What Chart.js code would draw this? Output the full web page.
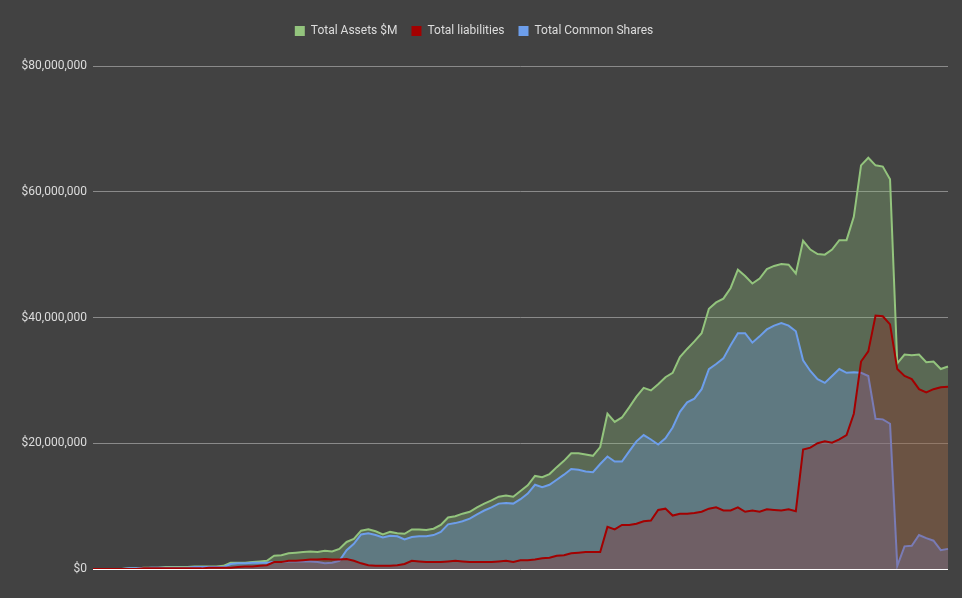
<!DOCTYPE html>
<html>
<head>
<meta charset="utf-8">
<script src="https://cdn.jsdelivr.net/npm/chart.js@4/dist/chart.umd.min.js"></script>
<style>
  html, body { margin: 0; padding: 0; background: #424242; }
  #wrap { width: 962px; height: 598px; }
</style>
</head>
<body>
<div id="wrap"><canvas id="myChart" width="962" height="598"></canvas></div>
<script>
// values in $M, one per period
const totalAssets = [
  0, 0, 0, 0, 0, 0.1, 0.1, 0.2, 0.2, 0.2, 0.3, 0.3, 0.3, 0.3, 0.4, 0.4, 0.4, 0.4, 0.5, 1.0,
  1.0, 1.0, 1.1, 1.2, 1.3, 2.1, 2.2, 2.5, 2.6, 2.7, 2.8, 2.7, 2.9, 2.8, 3.2, 4.3, 4.8, 6.1, 6.3, 6.0,
  5.5, 5.9, 5.7, 5.6, 6.3, 6.3, 6.2, 6.4, 7.0, 8.2, 8.4, 8.8, 9.1, 9.8, 10.4, 10.9, 11.5, 11.7, 11.5, 12.4,
  13.3, 14.8, 14.6, 15.1, 16.2, 17.2, 18.4, 18.4, 18.2, 18.0, 19.4, 24.7, 23.4, 24.1, 25.7, 27.4, 28.8, 28.4, 29.4, 30.5,
  31.2, 33.7, 35.0, 36.2, 37.5, 41.4, 42.4, 43.0, 44.7, 47.6, 46.6, 45.4, 46.2, 47.7, 48.2, 48.5, 48.4, 47.0, 52.2, 50.8,
  50.1, 50.0, 50.8, 52.3, 52.3, 56.0, 64.2, 65.4, 64.2, 64.0, 62.0, 32.7, 34.1, 34.0, 34.1, 32.9, 33.0, 31.8, 32.2
];
const totalLiabilities = [
  0, 0, 0, 0, 0, 0, 0, 0.1, 0.1, 0.1, 0.1, 0.1, 0.1, 0.1, 0.1, 0.1, 0.2, 0.2, 0.2, 0.2,
  0.3, 0.4, 0.4, 0.5, 0.6, 1.1, 1.1, 1.3, 1.3, 1.4, 1.5, 1.5, 1.6, 1.5, 1.5, 1.6, 1.3, 0.9, 0.6, 0.5,
  0.5, 0.5, 0.6, 0.8, 1.3, 1.2, 1.1, 1.1, 1.1, 1.2, 1.3, 1.2, 1.1, 1.1, 1.1, 1.1, 1.2, 1.3, 1.1, 1.4,
  1.4, 1.5, 1.7, 1.8, 2.1, 2.2, 2.5, 2.6, 2.7, 2.7, 2.7, 6.7, 6.3, 7.0, 7.0, 7.2, 7.6, 7.7, 9.4, 9.6,
  8.5, 8.8, 8.8, 8.9, 9.1, 9.6, 9.8, 9.3, 9.3, 9.8, 9.1, 9.3, 9.1, 9.5, 9.4, 9.3, 9.5, 9.2, 19.0, 19.3,
  20.0, 20.3, 20.1, 20.6, 21.3, 24.7, 33.0, 34.6, 40.3, 40.2, 38.9, 31.8, 30.7, 30.2, 28.6, 28.1, 28.6, 28.9, 29.0
];
const totalCommonShares = [
  0, 0, 0, 0, 0, 0.1, 0.1, 0.1, 0.2, 0.2, 0.2, 0.2, 0.2, 0.2, 0.3, 0.3, 0.3, 0.3, 0.3, 0.8,
  0.9, 0.9, 1.0, 1.0, 1.0, 1.1, 1.1, 1.2, 1.2, 1.2, 1.2, 1.1, 0.9, 1.0, 1.3, 3.0, 4.0, 5.5, 5.7, 5.4,
  5.0, 5.3, 5.2, 4.7, 5.1, 5.2, 5.2, 5.4, 5.9, 7.1, 7.3, 7.6, 8.0, 8.7, 9.3, 9.8, 10.4, 10.5, 10.4, 11.1,
  12.0, 13.4, 13.0, 13.4, 14.2, 15.0, 15.9, 15.8, 15.5, 15.4, 16.7, 17.9, 17.1, 17.1, 18.7, 20.3, 21.3, 20.6, 19.8, 20.8,
  22.5, 25.0, 26.5, 27.1, 28.6, 31.8, 32.6, 33.5, 35.6, 37.5, 37.5, 36.0, 37.0, 38.1, 38.7, 39.1, 38.7, 37.8, 33.2, 31.5,
  30.2, 29.6, 30.7, 31.8, 31.2, 31.3, 31.2, 30.7, 23.9, 23.8, 23.1, 0.5, 3.6, 3.7, 5.4, 4.9, 4.5, 3.0, 3.2
];
const periods = totalAssets.map((v, i) => 'P' + (i + 1));
const yTicks = [0, 20000000, 40000000, 60000000, 80000000];

const toDollars = arr => arr.map(v => v * 1000000);

const ctx = document.getElementById('myChart').getContext('2d');
Chart.defaults.font.family = 'Roboto, Arial, sans-serif';
Chart.defaults.font.size = 12;
Chart.defaults.color = '#dddddd';

new Chart(ctx, {
  type: 'line',
  data: {
    labels: periods,
    datasets: [
      {
        label: 'Total Assets $M',
        data: toDollars(totalAssets),
        borderColor: '#93c47d',
        backgroundColor: 'rgba(147,196,125,0.3)',
        fill: 'origin',
        order: 3
      },
      {
        label: 'Total liabilities',
        data: toDollars(totalLiabilities),
        borderColor: '#a30000',
        backgroundColor: 'rgba(160,20,20,0.25)',
        fill: 'origin',
        order: 1
      },
      {
        label: 'Total Common Shares',
        data: toDollars(totalCommonShares),
        borderColor: '#6d9eeb',
        backgroundColor: 'rgba(109,158,235,0.3)',
        fill: 'origin',
        order: 2
      }
    ]
  },
  options: {
    responsive: false,
    animation: false,
    layout: { padding: { left: 0, right: 14, top: 11, bottom: 29 } },
    elements: {
      point: { radius: 0 },
      line: { borderWidth: 2, tension: 0 }
    },
    plugins: {
      legend: {
        position: 'top',
        labels: {
          boxWidth: 10,
          boxHeight: 10,
          padding: 14,
          color: '#dddddd',
          font: { size: 12 },
          sort: (a, b) => a.datasetIndex - b.datasetIndex,
          generateLabels: chart => {
            const items = Chart.defaults.plugins.legend.labels.generateLabels(chart);
            items.forEach(it => {
              const ds = chart.data.datasets[it.datasetIndex];
              it.fillStyle = ds.borderColor;
              it.lineWidth = 0;
            });
            return items;
          }
        }
      },
      tooltip: { enabled: false }
    },
    scales: {
      x: {
        display: false,
        offset: false
      },
      y: {
        min: 0,
        max: 80000000,
        afterFit: s => { s.width = 93; },
        afterBuildTicks: s => { s.ticks = yTicks.map(v => ({ value: v })); },
        border: { display: false },
        grid: {
          color: ctx => ctx.tick && ctx.tick.value === 0 ? '#ffffff' : '#8a8a8a',
          drawTicks: false
        },
        ticks: {
          color: '#dddddd',
          padding: 6,
          callback: v => '$' + v.toLocaleString('en-US')
        }
      }
    }
  },
  plugins: [{
    id: 'legendGap',
    beforeInit: chart => {
      const fit = chart.legend.fit;
      chart.legend.fit = function () { fit.bind(chart.legend)(); this.height += 19; };
    }
  }]
});
</script>
</body>
</html>
